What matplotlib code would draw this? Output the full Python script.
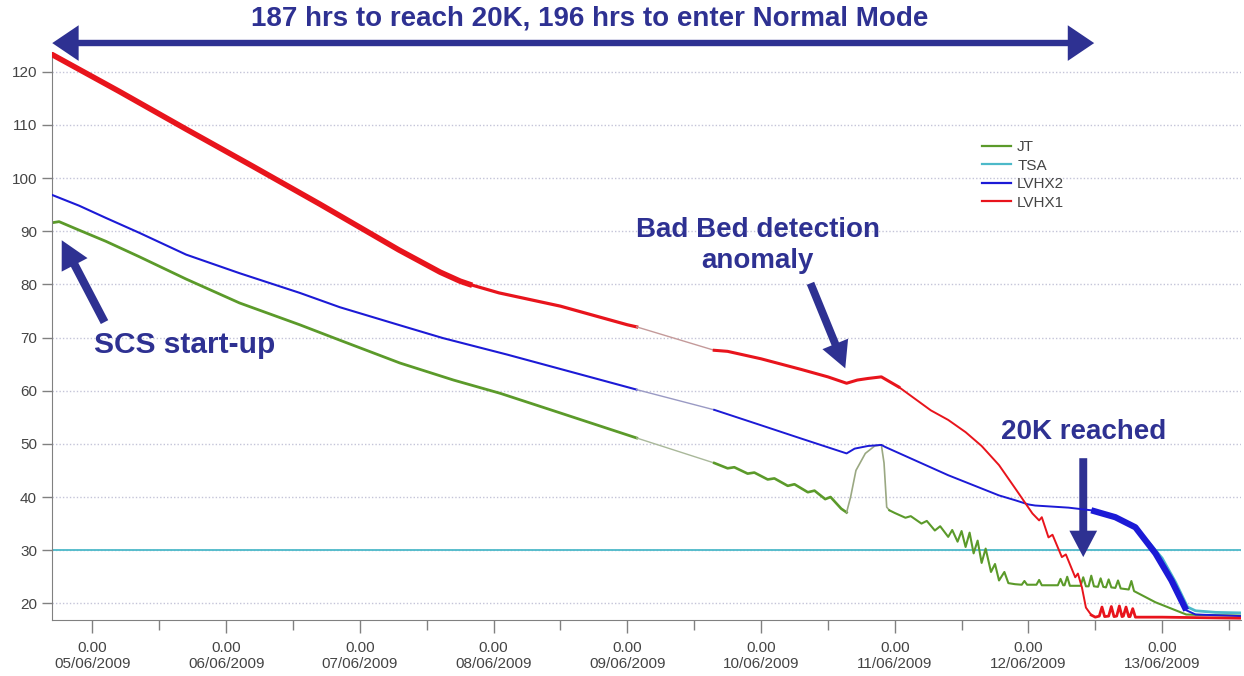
import matplotlib
matplotlib.use("Agg")
import matplotlib.pyplot as plt
from matplotlib.lines import Line2D
import numpy as np

plt.rcParams['font.family'] = ['Liberation Sans', 'DejaVu Sans']

# ================================
# data (x = days since 05/06/2009 00:00)
# ================================
day_labels = ["05/06/2009", "06/06/2009", "07/06/2009", "08/06/2009", "09/06/2009",
              "10/06/2009", "11/06/2009", "12/06/2009", "13/06/2009"]

t_jt = [-0.30, -0.25, -0.10, 0.10, 0.35, 0.70, 1.10, 1.55, 1.85, 2.30, 2.70, 3.05, 3.50, 4.07,
        4.65, 4.75, 4.80, 4.90, 4.95, 5.05, 5.10, 5.20, 5.25, 5.35, 5.40, 5.48, 5.52, 5.60, 5.64,
        5.67, 5.71, 5.78, 5.85, 5.90, 5.92, 5.94, 5.96,
        6.00, 6.08, 6.12, 6.20, 6.24, 6.30, 6.34, 6.40, 6.43, 6.47, 6.50, 6.53, 6.56, 6.59,
        6.62, 6.65, 6.68, 6.72, 6.75, 6.78, 6.82, 6.85, 6.90, 6.95, 6.97, 6.99, 7.06, 7.08,
        7.10, 7.22, 7.24, 7.26, 7.27, 7.29, 7.31, 7.39, 7.41, 7.43, 7.45, 7.47, 7.49, 7.52,
        7.54, 7.56, 7.58, 7.60, 7.62, 7.65, 7.67, 7.69, 7.75, 7.77, 7.79, 7.95, 8.10, 8.18,
        8.30, 8.59]
jt = [91.6, 91.8, 90.2, 88.1, 85.2, 81.0, 76.5, 72.4, 69.5, 65.2, 62.0, 59.5, 55.8, 51.1,
      46.4, 45.4, 45.6, 44.4, 44.6, 43.3, 43.5, 42.1, 42.4, 40.9, 41.2, 39.6, 40.0, 37.8, 37.1,
      40.0, 45.0, 48.2, 49.6, 49.8, 46.4, 38.1, 37.5,
      37.0, 36.1, 36.4, 35.0, 35.5, 33.7, 34.5, 32.5, 33.8, 31.6, 33.6, 30.6, 33.3, 29.4,
      31.8, 27.6, 30.3, 25.9, 27.4, 24.3, 25.9, 23.8, 23.6, 23.5, 24.2, 23.5, 23.5, 24.4,
      23.4, 23.4, 24.6, 23.4, 23.4, 25.0, 23.3, 23.3, 24.9, 23.2, 23.2, 25.2, 23.2, 23.1,
      24.7, 23.1, 23.0, 24.5, 23.0, 22.9, 24.3, 22.8, 22.6, 24.2, 22.3, 20.2, 18.7, 17.9,
      17.8, 17.7]

t_tsa = [7.90, 8.00, 8.10, 8.19, 8.25, 8.40, 8.59]
tsa = [31.5, 28.5, 24.0, 19.3, 18.6, 18.3, 18.2]
tsa_setpoint = 30

t_lvhx2 = [-0.30, -0.10, 0.10, 0.35, 0.70, 1.10, 1.55, 1.85, 2.30, 2.62, 3.10, 3.60, 4.07,
           4.65, 5.00, 5.30, 5.64, 5.70, 5.80, 5.90, 5.93, 6.40, 6.78, 6.90, 7.00, 7.05, 7.30,
           7.47, 7.65, 7.80, 7.95, 8.07, 8.18, 8.25, 8.59]
lvhx2 = [96.8, 94.8, 92.5, 89.7, 85.6, 82.1, 78.4, 75.7, 72.3, 69.9, 66.8, 63.4, 60.2,
         56.4, 53.5, 51.0, 48.2, 49.1, 49.6, 49.8, 49.4, 44.1, 40.3, 39.4, 38.6, 38.4, 38.0,
         37.5, 36.2, 34.3, 29.4, 24.3, 18.7, 17.9, 17.6]

t_lvhx1 = [-0.30, 0.20, 0.70, 1.20, 1.70, 2.29, 2.60, 2.75, 2.82,
           3.04, 3.50, 4.00, 4.07,
           4.65, 4.75, 5.00, 5.30, 5.50, 5.64, 5.72, 5.80, 5.90, 6.03,
           6.27, 6.40, 6.53, 6.65, 6.78, 6.91, 7.03, 7.08, 7.10, 7.15, 7.18, 7.25, 7.28,
           7.35, 7.37, 7.40, 7.43, 7.47, 7.50, 7.53, 7.55, 7.57, 7.60, 7.62, 7.64, 7.66,
           7.68, 7.70, 7.71, 7.73, 7.75, 7.76, 7.78, 7.80, 8.00, 8.30, 8.59]
lvhx1 = [123.2, 116.3, 109.2, 102.2, 95.1, 86.5, 82.3, 80.6, 80.0,
         78.4, 75.9, 72.4, 72.0,
         67.6, 67.4, 66.0, 64.0, 62.6, 61.4, 62.0, 62.3, 62.6, 60.7,
         56.3, 54.5, 52.2, 49.6, 46.0, 41.3, 36.9, 35.6, 36.2, 32.4, 32.9, 28.7, 29.2,
         24.9, 25.6, 23.0, 19.2, 17.8, 17.4, 17.6, 19.3, 17.5, 17.6, 19.4, 17.5, 17.6,
         19.5, 17.5, 17.6, 19.3, 17.5, 17.5, 19.0, 17.4, 17.4, 17.3, 17.2]

gap = (4.07, 4.65)        # logging gap drawn as a thin pale line
hrs_to_20k = 187

c_jt, c_tsa, c_lv2, c_lv1 = "#5b9a2a", "#4cb9c9", "#1c1ad6", "#e8141c"
navy = "#2e3192"


def part(t, v, lo, hi):
    t = np.asarray(t)
    v = np.asarray(v)
    m = (t >= lo - 1e-9) & (t <= hi + 1e-9)
    return t[m], v[m]


# ================================
# figure
# ================================
fig = plt.figure(figsize=(12.44, 6.76), dpi=100)
ax = fig.add_axes([0.0420, 0.0828, 0.9555, 0.8402])

ax.axhline(tsa_setpoint, color=c_tsa, lw=1.3, zorder=1)

# JT
ax.plot(*part(t_jt, jt, -1, gap[0]), color=c_jt, lw=2.0, zorder=2)
ax.plot(*part(t_jt, jt, gap[0], gap[1]), color="#a9b89a", lw=1.0, zorder=2)
ax.plot(*part(t_jt, jt, gap[1], 5.64), color=c_jt, lw=1.9, zorder=2)
ax.plot(*part(t_jt, jt, 5.64, 5.96), color="#9aa882", lw=1.2, zorder=2)
ax.plot(*part(t_jt, jt, 5.96, 9), color=c_jt, lw=1.5, zorder=2)

# TSA
ax.plot(t_tsa, tsa, color=c_tsa, lw=2.0, zorder=3)

# LVHX2
ax.plot(*part(t_lvhx2, lvhx2, -1, gap[0]), color=c_lv2, lw=1.5, zorder=4)
ax.plot(*part(t_lvhx2, lvhx2, gap[0], gap[1]), color="#9a9ac4", lw=1.0, zorder=4)
ax.plot(*part(t_lvhx2, lvhx2, gap[1], 7.47), color=c_lv2, lw=1.4, zorder=4)
ax.plot(*part(t_lvhx2, lvhx2, 7.47, 8.18), color=c_lv2, lw=4.5, zorder=4,
        solid_capstyle="butt")
ax.plot(*part(t_lvhx2, lvhx2, 8.18, 9), color=c_lv2, lw=1.4, zorder=4)

# LVHX1
ax.plot(*part(t_lvhx1, lvhx1, -1, 2.82), color=c_lv1, lw=4.0, zorder=5)
ax.plot(*part(t_lvhx1, lvhx1, 2.82, gap[0]), color=c_lv1, lw=2.3, zorder=5)
ax.plot(*part(t_lvhx1, lvhx1, gap[0], gap[1]), color="#c49a9a", lw=1.0, zorder=5)
ax.plot(*part(t_lvhx1, lvhx1, gap[1], 6.03), color=c_lv1, lw=2.2, zorder=5)
ax.plot(*part(t_lvhx1, lvhx1, 6.03, 7.47), color=c_lv1, lw=1.4, zorder=5)
ax.plot(*part(t_lvhx1, lvhx1, 7.47, 9), color=c_lv1, lw=2.0, zorder=5)

# axes styling
ax.set_xlim(-0.301, 8.589)
ax.set_ylim(16.86, 123.7)
ax.set_yticks(range(20, 121, 10))
ax.set_xticks(range(len(day_labels)))
ax.set_xticklabels(["0.00\n" + d for d in day_labels])
ax.set_xticks(np.arange(0.5, len(day_labels), 1.0), minor=True)
ax.tick_params(axis="x", which="major", length=9, width=1, color="#808080", pad=6,
               labelsize=11, labelcolor="#444444")
ax.tick_params(axis="x", which="minor", length=7, width=1, color="#808080")
ax.tick_params(axis="y", length=7, width=1, color="#808080", pad=4,
               labelsize=11, labelcolor="#444444")
for s in ["top", "right"]:
    ax.spines[s].set_visible(False)
for s in ["left", "bottom"]:
    ax.spines[s].set_color("#808080")
ax.yaxis.grid(True, linestyle=(0, (1, 1.5)), color="#c4c4d8", lw=1)
ax.set_axisbelow(True)

# legend
handles = [Line2D([], [], color=c, lw=1.6) for c in (c_jt, c_tsa, c_lv2, c_lv1)]
ax.legend(handles, ["JT", "TSA", "LVHX2", "LVHX1"], loc="upper left",
          bbox_to_anchor=(982 / 1244, 1 - 140 / 676), bbox_transform=fig.transFigure,
          frameon=False, fontsize=11, handlelength=1.9, labelspacing=0.3,
          handletextpad=0.4, borderpad=0, borderaxespad=0, labelcolor="#444444")

# annotations
afont = dict(fontweight="bold", color=navy)
arr = dict(arrowstyle="simple,head_length=1.0,head_width=1.05,tail_width=0.3",
           color=navy, lw=0, shrinkA=0, shrinkB=0)

ax.text(0.69, 68.6, "SCS start-up", ha="center", va="center", fontsize=21.5, **afont)
ax.annotate("", xy=(-0.23, 88.3), xytext=(0.09, 72.9), arrowprops=dict(arr, mutation_scale=20))

ax.text(4.975, 87.4, "Bad Bed detection\nanomaly", ha="center", va="center",
        linespacing=1.25, fontsize=20, **afont)
ax.annotate("", xy=(5.63, 64.2), xytext=(5.37, 80.2), arrowprops=dict(arr, mutation_scale=19))

ax.text(7.41, 52.2, "20K reached", ha="center", va="center", fontsize=20, **afont)
ax.annotate("", xy=(7.41, 28.7), xytext=(7.41, 47.3), arrowprops=dict(arr, mutation_scale=19))

# top double arrow: time to reach 20K
t_start = t_lvhx1[0]
t_20k = t_start + hrs_to_20k / 24
ymid = 1.0158
x_left = ax.get_xlim()[0]
ax.plot([x_left + 0.1, t_20k - 0.1], [ymid, ymid], color=navy, lw=4.6,
        solid_capstyle="butt", transform=ax.get_xaxis_transform(), clip_on=False, zorder=6)
top_arr = dict(arrowstyle="simple,head_length=1.0,head_width=1.35,tail_width=0.15",
               color=navy, lw=0, shrinkA=0, shrinkB=0, mutation_scale=19)
for xe, xs in ((x_left, x_left + 0.2), (t_20k, t_20k - 0.2)):
    ax.annotate("", xy=(xe, ymid), xytext=(xs, ymid), xycoords=("data", "axes fraction"),
                textcoords=("data", "axes fraction"), arrowprops=top_arr,
                annotation_clip=False, zorder=7)
fig.text(590 / 1244, 1 - 18 / 676, "187 hrs to reach 20K, 196 hrs to enter Normal Mode",
         ha="center", va="center", fontsize=20, fontweight="bold", color=navy)

fig.savefig("out.png", dpi=100)
